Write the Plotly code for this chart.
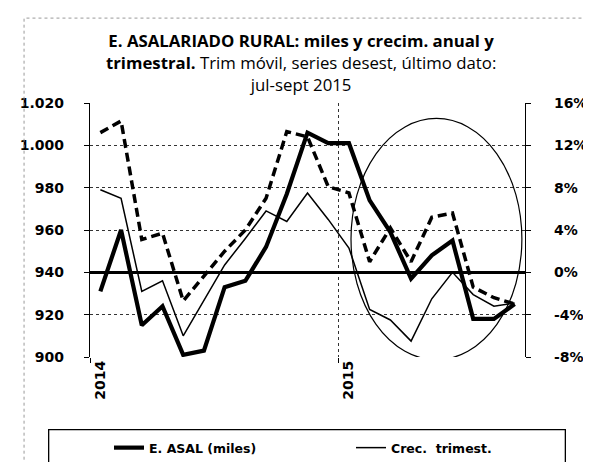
import plotly.graph_objects as go

# ---- data ----
periodos = ["ene-14", "feb-14", "mar-14", "abr-14", "may-14", "jun-14", "jul-14",
            "ago-14", "sep-14", "oct-14", "nov-14", "dic-14", "ene-15", "feb-15",
            "mar-15", "abr-15", "may-15", "jun-15", "jul-15", "ago-15", "sep-15"]
asal_miles = [931, 960, 915, 924, 901, 903, 933, 936, 952, 977, 1006, 1001,
              1001, 974, 959, 937, 948, 955, 918, 918, 925]
crec_trimest = [7.8, 7.0, -1.8, -0.8, -6.0, -2.6, 0.7, 3.2, 5.8, 4.8, 7.5, 5.0,
                2.3, -3.5, -4.5, -6.5, -2.5, 0.0, -2.1, -3.2, -2.9]
crec_anual = [13.2, 14.3, 3.1, 3.7, -2.7, -0.4, 2.0, 4.0, 7.0, 13.3, 12.8, 8.1,
              7.5, 1.0, 4.2, 1.0, 5.2, 5.6, -1.4, -2.4, -3.0]
year_labels = ["2014", "2015"]
left_ticks = [900, 920, 940, 960, 980, 1000, 1020]
right_ticks = [-8, -4, 0, 4, 8, 12, 16]

x = list(range(len(periodos)))
year_pos = [periodos.index("ene-14"), periodos.index("ene-15")]
grid_pos = [p - 0.5 for p in year_pos]
right_text = [f"{v}%" for v in right_ticks]

FONT = "DejaVu Sans"
BOLD = dict(family=FONT, size=14, color="black", weight="bold")
LEG_FONT = dict(family=FONT, size=12.5, color="black", weight="bold")

fig = go.Figure()
fig.add_trace(go.Scatter(x=x, y=crec_anual, yaxis="y2", mode="lines",
                         name="Crec. anual", showlegend=False,
                         line=dict(color="black", width=3.5, dash="9px,5px")))
fig.add_trace(go.Scatter(x=x, y=crec_trimest, yaxis="y2", mode="lines",
                         name="Crec.  trimest.", legend="legend2",
                         line=dict(color="black", width=1.5)))
fig.add_trace(go.Scatter(x=x, y=asal_miles, mode="lines",
                         name="E. ASAL (miles)", legend="legend",
                         line=dict(color="black", width=4.2)))

# ellipse highlighting 2015
fig.add_shape(type="circle", xref="x", yref="y", x0=12.1, x1=20.35,
              y0=898.7, y1=1012.7, line=dict(color="black", width=1.2))

# outer dotted frame and legend box (paper coords relative to plot area)
PL, PR, PT, PB = 80, 522, 95, 349.3
def px_x(v):
    return (v - PL) / (PR - PL)
def px_y(v):
    return (PB - v) / (PB - PT)
fig.add_shape(type="rect", xref="paper", yref="paper",
              x0=px_x(13), x1=px_x(583), y0=px_y(460), y1=px_y(10),
              line=dict(color="#999999", width=1, dash="dot"))
fig.add_shape(type="rect", xref="paper", yref="paper",
              x0=px_x(38), x1=px_x(563), y0=px_y(458), y1=px_y(422),
              line=dict(color="black", width=1.3))

leg_common = dict(orientation="h", xref="container", yref="container",
                  xanchor="left", y=1 - 440 / 462, yanchor="middle",
                  font=LEG_FONT, bgcolor="rgba(0,0,0,0)", borderwidth=0)

fig.update_layout(
    width=591, height=462,
    margin=dict(l=80, r=69, t=95, b=113),
    paper_bgcolor="white", plot_bgcolor="white",
    separators=",.",
    font=dict(family=FONT, color="black"),
    title=dict(
        text="<b>E. ASALARIADO RURAL: miles y crecim. anual y<br>trimestral.</b>"
             " Trim móvil, series desest, último dato:<br>jul-sept 2015",
        xref="container", yref="container", x=0.496, xanchor="center",
        y=1 - 39 / 462, yanchor="top",
        font=dict(family="Open Sans", size=16.8, color="black")),
    showlegend=True,
    legend=dict(x=101 / 591, **leg_common),
    legend2=dict(x=343 / 591, **leg_common),
    xaxis=dict(range=[-0.5, len(periodos) - 0.5], tickvals=year_pos,
               ticktext=year_labels, tickangle=-90, showgrid=False,
               zeroline=False, showline=False, ticks="",
               tickfont=BOLD,
               minor=dict(tickvals=grid_pos, showgrid=True, gridcolor="#333333",
                          griddash="dot", gridwidth=1, ticks="outside",
                          ticklen=5, tickcolor="black")),
    yaxis=dict(range=[900, 1020], tickvals=left_ticks, tickformat=",d",
               showgrid=True, gridcolor="#333333", griddash="dot", gridwidth=1,
               zeroline=False, showline=True, linecolor="black", linewidth=1.2,
               ticks="outside", ticklen=5, tickcolor="black",
               ticklabelstandoff=17, tickfont=BOLD),
    yaxis2=dict(range=[-8, 16], tickvals=right_ticks, ticktext=right_text,
                overlaying="y", side="right", showgrid=False,
                zeroline=True, zerolinecolor="black", zerolinewidth=3,
                showline=True, linecolor="black", linewidth=1.2,
                ticks="outside", ticklen=5, tickcolor="black",
                ticklabelstandoff=20, tickfont=BOLD),
)

fig.write_html("out.html")
